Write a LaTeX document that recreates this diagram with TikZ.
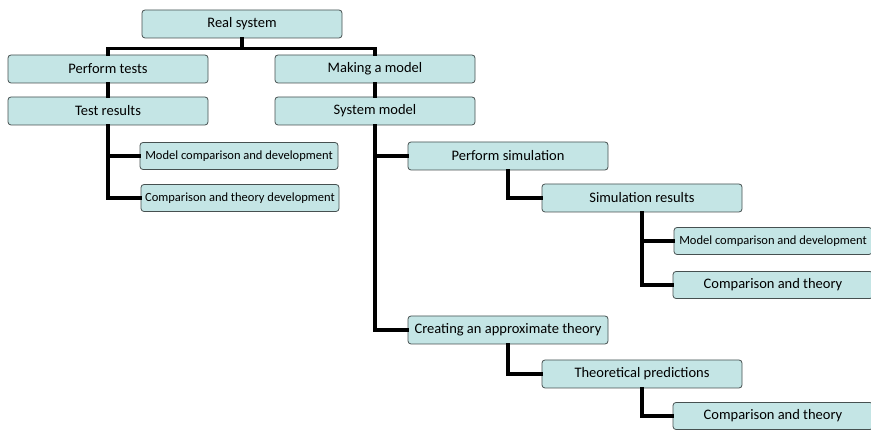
\documentclass[tikz,border=0pt]{standalone}
\usepackage{fontspec}
\setmainfont{Carlito}
\usepackage{tikz}
\definecolor{boxfill}{RGB}{196,229,229}
\definecolor{boxline}{RGB}{70,80,80}

\begin{document}
\begin{tikzpicture}[x=1pt,y=-1pt]
      \tikzstyle{every node} = [draw=boxline, fill=boxfill, thick, rounded corners=3pt,
        minimum width=200pt, minimum height=28pt, inner sep=0pt, font=\fontsize{14.5}{16}\selectfont]
      \tikzstyle{small} = [minimum width=198pt, minimum height=27pt, font=\fontsize{12.5}{14}\selectfont]
      \tikzstyle{link} = [line width=3.2pt, line cap=rect]
      \useasboundingbox (0,0) rectangle (871,430);
      \clip (0,0) rectangle (871,430);

      % top level
      \node(real) at (242,24) {Real system};
      \node(tests) at (108,69) {Perform tests};
      \node(making) at (375,69) {Making a model};
      \node(testres) at (108,111) {Test results};
      \node(sysmodel) at (375,111) {System model};

      % test branch
      \node[small](cmpdev) at (239,156) {Model comparison and development};
      \node[small](thdev) at (240,198) {Comparison and theory development};

      % model branch
      \node(sim) at (508,156) {Perform simulation};
      \node(simres) at (642,198) {Simulation results};
      \node[small](simcmp) at (773,241) {Model comparison and development};
      \node[minimum height=27pt](simth) at (773,285) {Comparison and theory};
      \node(approx) at (508,330) {Creating an approximate theory};
      \node(pred) at (642,374) {Theoretical predictions};
      \node[minimum height=27pt](predth) at (773,416) {Comparison and theory};

      \draw[link] (real.south) -- ++(0,10) coordinate(bus) -| (tests.north);
      \draw[link] (bus) -| (making.north);
      \draw[link] (tests.south) -- (testres.north);
      \draw[link] (making.south) -- (sysmodel.north);
      \draw[link] (testres.south) |- (cmpdev.west);
      \draw[link] (testres.south) |- (thdev.west);
      \draw[link] (sysmodel.south) |- (sim.west);
      \draw[link] (sysmodel.south) |- (approx.west);
      \draw[link] (sim.south) |- (simres.west);
      \draw[link] (simres.south) |- (simcmp.west);
      \draw[link] (simres.south) |- (simth.west);
      \draw[link] (approx.south) |- (pred.west);
      \draw[link] (pred.south) |- (predth.west);
    \end{tikzpicture}
\end{document}
